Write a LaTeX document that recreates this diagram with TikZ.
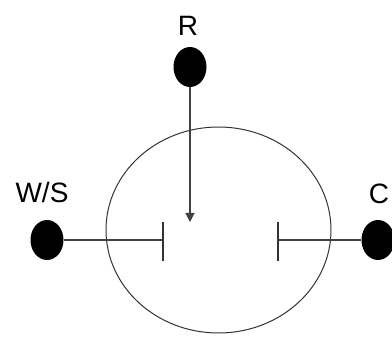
\documentclass[tikz,border=0pt]{standalone}
\usepackage{fontspec}
\setmainfont{Liberation Sans}
\usetikzlibrary{arrows.meta,shapes.geometric}
\begin{document}
\begin{tikzpicture}[x=1pt,y=-1pt,
  dot/.style={ellipse,fill=black,minimum width=33pt,minimum height=40pt,inner sep=0pt},
  lbl/.style={font=\fontsize{28}{28}\selectfont,inner sep=0pt},
  wire/.style={draw=black!75,line width=1.1pt},
  barline/.style={draw=black!80,line width=1.1pt}]
\useasboundingbox (0,0) rectangle (392,342);
\node[draw=black!80,line width=1pt,ellipse,minimum width=225pt,minimum height=206pt,inner sep=0pt] (circ) at (218.5,230) {};
\node[dot] (r) at (190,67) {};
\node[lbl] (rl) at (188,26) {R};
\node[dot] (ws) at (47,240) {};
\node[lbl] (wsl) at (42,192) {W/S};
\node[dot] (c) at (378,240) {};
\node[lbl] (cl) at (379,194) {C};
\coordinate (rt) at (190,222);
\coordinate (lb) at (163,240);
\coordinate (rb) at (278,240);
\draw[wire,-{Triangle[length=9pt,width=9pt]}] (r) -- (rt);
\draw[wire] (ws) -- (lb);
\draw[wire] (c) -- (rb);
\draw[barline] ([yshift=-21pt]lb) -- ([yshift=18pt]lb);
\draw[barline] ([yshift=-21pt]rb) -- ([yshift=18pt]rb);
\end{tikzpicture}
\end{document}
